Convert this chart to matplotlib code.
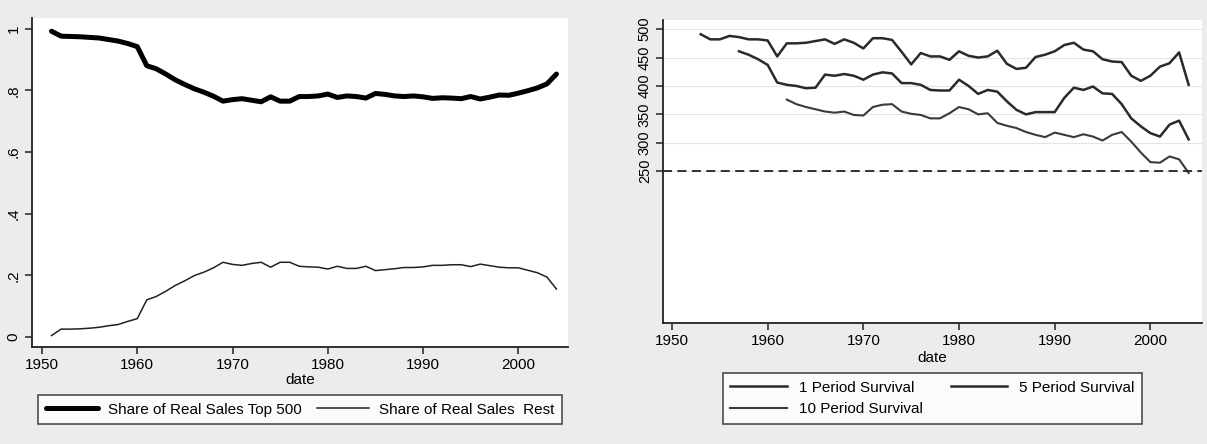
import matplotlib
matplotlib.use("Agg")
import matplotlib.pyplot as plt

plt.rcParams['font.family'] = ['Liberation Sans', 'DejaVu Sans']
plt.rcParams['font.size'] = 11

# left panel: sales shares
years_share = list(range(1951, 2005))
top500 = [0.992, 0.976, 0.975, 0.974, 0.972, 0.970, 0.965, 0.960, 0.952, 0.942,
          0.880, 0.870, 0.853, 0.834, 0.819, 0.805, 0.794, 0.781, 0.765, 0.770,
          0.773, 0.768, 0.763, 0.779, 0.765, 0.765, 0.780, 0.780, 0.782, 0.788,
          0.777, 0.782, 0.780, 0.775, 0.790, 0.787, 0.782, 0.780, 0.782, 0.779,
          0.774, 0.776, 0.775, 0.773, 0.780, 0.772, 0.778, 0.785, 0.784, 0.791,
          0.799, 0.808, 0.821, 0.853]
rest = [0.004, 0.025, 0.025, 0.026, 0.028, 0.031, 0.036, 0.040, 0.050, 0.059,
        0.120, 0.131, 0.148, 0.167, 0.182, 0.199, 0.210, 0.224, 0.242, 0.235,
        0.232, 0.238, 0.242, 0.226, 0.242, 0.242, 0.229, 0.227, 0.226, 0.220,
        0.229, 0.222, 0.222, 0.229, 0.215, 0.218, 0.221, 0.225, 0.225, 0.227,
        0.232, 0.232, 0.234, 0.234, 0.228, 0.236, 0.231, 0.226, 0.224, 0.224,
        0.216, 0.208, 0.194, 0.155]

# right panel: survival counts
years_1p = list(range(1953, 2005))
surv_1p = [491, 482, 482, 488, 486, 482, 482, 480, 452, 475,
           475, 476, 479, 482, 474, 482, 476, 466, 484, 484,
           481, 460, 438, 458, 452, 452, 446, 461, 453, 450,
           452, 462, 439, 430, 432, 451, 455, 461, 472, 476,
           464, 461, 447, 443, 442, 418, 409, 418, 434, 440,
           459, 402]
years_5p = list(range(1957, 2005))
surv_5p = [461, 455, 447, 437, 406, 402, 400, 396, 397, 420,
           418, 421, 418, 411, 420, 424, 422, 405, 405, 402,
           393, 392, 392, 411, 400, 386, 393, 390, 373, 358,
           350, 354, 354, 354, 379, 397, 393, 399, 387, 386,
           368, 343, 329, 317, 311, 332, 339, 306]
years_10p = list(range(1962, 2005))
surv_10p = [376, 368, 363, 359, 355, 353, 355, 349, 348, 363,
            367, 368, 355, 351, 349, 343, 343, 352, 363, 359,
            350, 352, 335, 330, 326, 319, 314, 310, 318, 314,
            310, 315, 311, 304, 314, 319, 302, 283, 266, 265,
            276, 271, 247]
ref_level = 250

fig = plt.figure(figsize=(12.07, 4.44), dpi=100)
fig.patch.set_facecolor('#ececec')

axis_col = '#222222'

# ---- left panel
ax1 = fig.add_axes([0.0265, 0.2185, 0.444, 0.741])
ax1.plot(years_share, top500, color='black', lw=3.6, solid_capstyle='round',
         label='Share of Real Sales Top 500')
ax1.plot(years_share, rest, color='#222222', lw=1.1, label='Share of Real Sales  Rest')
ax1.set_xlim(1948.95, 2005.2)
ax1.set_ylim(-0.033, 1.035)
ax1.set_xticks([1950, 1960, 1970, 1980, 1990, 2000])
ax1.set_yticks([0, 0.2, 0.4, 0.6, 0.8, 1.0])
ax1.set_yticklabels(['0', '.2', '.4', '.6', '.8', '1'])
ax1.set_xlabel('date', labelpad=1)
ax1.legend(loc='upper center', bbox_to_anchor=(0.5, -0.146), borderaxespad=0,
           ncol=2, frameon=True, fancybox=False, edgecolor=axis_col, handlelength=3.4,
           handletextpad=0.65, borderpad=0.5, columnspacing=1.0)

# ---- right panel
ax2 = fig.add_axes([0.5493, 0.2725, 0.4466, 0.6824])
ax2.plot(years_1p, surv_1p, color='#2a2a2a', lw=1.8, label='1 Period Survival')
ax2.plot(years_5p, surv_5p, color='#2a2a2a', lw=1.8, label='5 Period Survival')
ax2.plot(years_10p, surv_10p, color='#3a3a3a', lw=1.5, label='10 Period Survival')
ax2.axhline(ref_level, color='#222222', lw=1.3, ls=(0, (5, 3)))
ax2.set_xlim(1949.06, 2005.4)
ax2.set_ylim(-17, 516)
ax2.set_xticks([1950, 1960, 1970, 1980, 1990, 2000])
ax2.set_yticks([250, 300, 350, 400, 450, 500])
ax2.grid(axis='y', color='#e4e4e4', lw=0.8)
ax2.set_xlabel('date', labelpad=2)
h, l = ax2.get_legend_handles_labels()
order = [0, 2, 1]
ax2.legend([h[i] for i in order], [l[i] for i in order], loc='upper center',
           bbox_to_anchor=(0.5, -0.165), borderaxespad=0, ncol=2, frameon=True,
           fancybox=False, edgecolor=axis_col, handlelength=3.7, borderpad=0.5,
           columnspacing=1.8, labelspacing=0.5, handletextpad=0.8)

for ax in (ax1, ax2):
    ax.set_facecolor('white')
    for s in ('top', 'right'):
        ax.spines[s].set_visible(False)
    for s in ('left', 'bottom'):
        ax.spines[s].set_color(axis_col)
        ax.spines[s].set_linewidth(1.3)
    ax.tick_params(color=axis_col, width=1.1, length=5, pad=3)
    ax.get_legend().get_frame().set_linewidth(1.2)
    for lbl in ax.get_yticklabels():
        lbl.set_rotation(90)
        lbl.set_va('center')
        lbl.set_ha('right')

for lbl in ax2.get_yticklabels():
    lbl.set_fontsize(10.5)

fig.savefig('out.png', dpi=100, facecolor=fig.get_facecolor())
